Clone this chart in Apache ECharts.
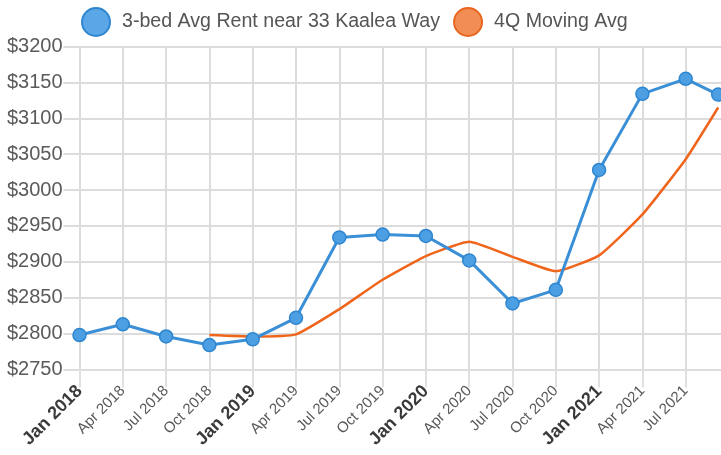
<!DOCTYPE html>
<html>
<head>
<meta charset="utf-8">
<script src="https://cdn.jsdelivr.net/npm/echarts@6/dist/echarts.min.js"></script>
<style>
  html, body { margin: 0; padding: 0; background: #ffffff; }
  #chart { width: 721px; height: 455px; }
</style>
</head>
<body>
<div id="chart"></div>
<script>
// 数据：季度序号（0 = Jan 2018），最后一个点在 Jul 2021 之后约 3/4 个季度
const QUARTER_POS = [0, 1, 2, 3, 4, 5, 6, 7, 8, 9, 10, 11, 12, 13, 14, 14.75];
const RENT = [2798, 2813, 2796, 2784, 2792, 2822, 2934, 2938, 2936, 2902, 2842, 2861, 3028, 3134, 3155, 3133];
const MOVING_AVG = [null, null, null, 2798, 2796, 2799, 2834, 2875, 2908, 2928, 2907, 2887, 2909, 2966, 3043, 3115];
const TICK_LABELS = [
  'Jan 2018', 'Apr 2018', 'Jul 2018', 'Oct 2018',
  'Jan 2019', 'Apr 2019', 'Jul 2019', 'Oct 2019',
  'Jan 2020', 'Apr 2020', 'Jul 2020', 'Oct 2020',
  'Jan 2021', 'Apr 2021', 'Jul 2021',
];
const SERIES_NAMES = ['3-bed Avg Rent near 33 Kaalea Way', '4Q Moving Avg'];

const FONT = '"Liberation Sans", Arial, sans-serif';
const GRID_LINE = { lineStyle: { color: '#dcdcdc', width: 2 } };

const pairs = (vals) => vals.map((v, i) => [QUARTER_POS[i], v]).filter((p) => p[1] != null);

const chart = echarts.init(document.getElementById('chart'));
chart.setOption({
  animation: false,
  legend: {
    top: 7,
    left: 81,
    padding: 0,
    itemWidth: 30,
    itemHeight: 28,
    itemGap: 13,
    textStyle: { fontFamily: FONT, fontSize: 19.6, color: '#555555', padding: [0, 0, 0, 6] },
    data: [
      { name: SERIES_NAMES[0], icon: 'circle', itemStyle: { color: '#5aa6e6', borderColor: '#2f86d0', borderWidth: 2 } },
      { name: SERIES_NAMES[1], icon: 'circle', itemStyle: { color: '#f28e55', borderColor: '#e8661f', borderWidth: 2 } },
    ],
  },
  // 网格向右延伸到画布之外（原图在 Oct 2021 之前被裁切）
  grid: {
    left: 79.5, top: 46.5, width: 649.5, height: 323,
    containLabel: false,
    outerBoundsMode: 'none',
  },
  xAxis: {
    type: 'value',
    min: 0,
    max: 15,
    interval: 1,
    axisLine: { show: false },
    axisTick: { show: true, length: 18, lineStyle: { color: '#e0e0e0', width: 2 } },
    splitLine: GRID_LINE,
    axisLabel: {
      rotate: 45,
      margin: 19,
      fontFamily: FONT,
      formatter: (v) => {
        const label = Number.isInteger(v) ? TICK_LABELS[v] : '';
        if (!label) return '';
        return label.startsWith('Jan') ? `{b|${label}}` : `{n|${label}}`;
      },
      rich: {
        b: { fontFamily: FONT, fontSize: 18, fontWeight: 'bold', color: '#3a3a3a' },
        n: { fontFamily: FONT, fontSize: 15, color: '#5a5a5a' },
      },
    },
  },
  yAxis: {
    type: 'value',
    min: 2750,
    max: 3200,
    interval: 50,
    axisLine: { show: false },
    axisTick: { show: true, length: 16, lineStyle: { color: '#dcdcdc', width: 2 } },
    splitLine: GRID_LINE,
    axisLabel: {
      margin: 17,
      fontFamily: FONT,
      fontSize: 20,
      color: '#5a5a5a',
      formatter: (v) => '$' + v,
    },
  },
  series: [
    {
      name: SERIES_NAMES[0],
      type: 'line',
      data: pairs(RENT),
      symbol: 'circle',
      symbolSize: 13,
      lineStyle: { color: '#3a8fd6', width: 3 },
      itemStyle: { color: '#4c9fe2', borderColor: '#2f86d0', borderWidth: 1.5 },
      z: 3,
    },
    {
      name: SERIES_NAMES[1],
      type: 'line',
      data: pairs(MOVING_AVG),
      symbol: 'none',
      smooth: 0.15,
      lineStyle: { color: '#f0651c', width: 2.5 },
      itemStyle: { color: '#f0651c' },
      z: 2,
    },
  ],
});
</script>
</body>
</html>
